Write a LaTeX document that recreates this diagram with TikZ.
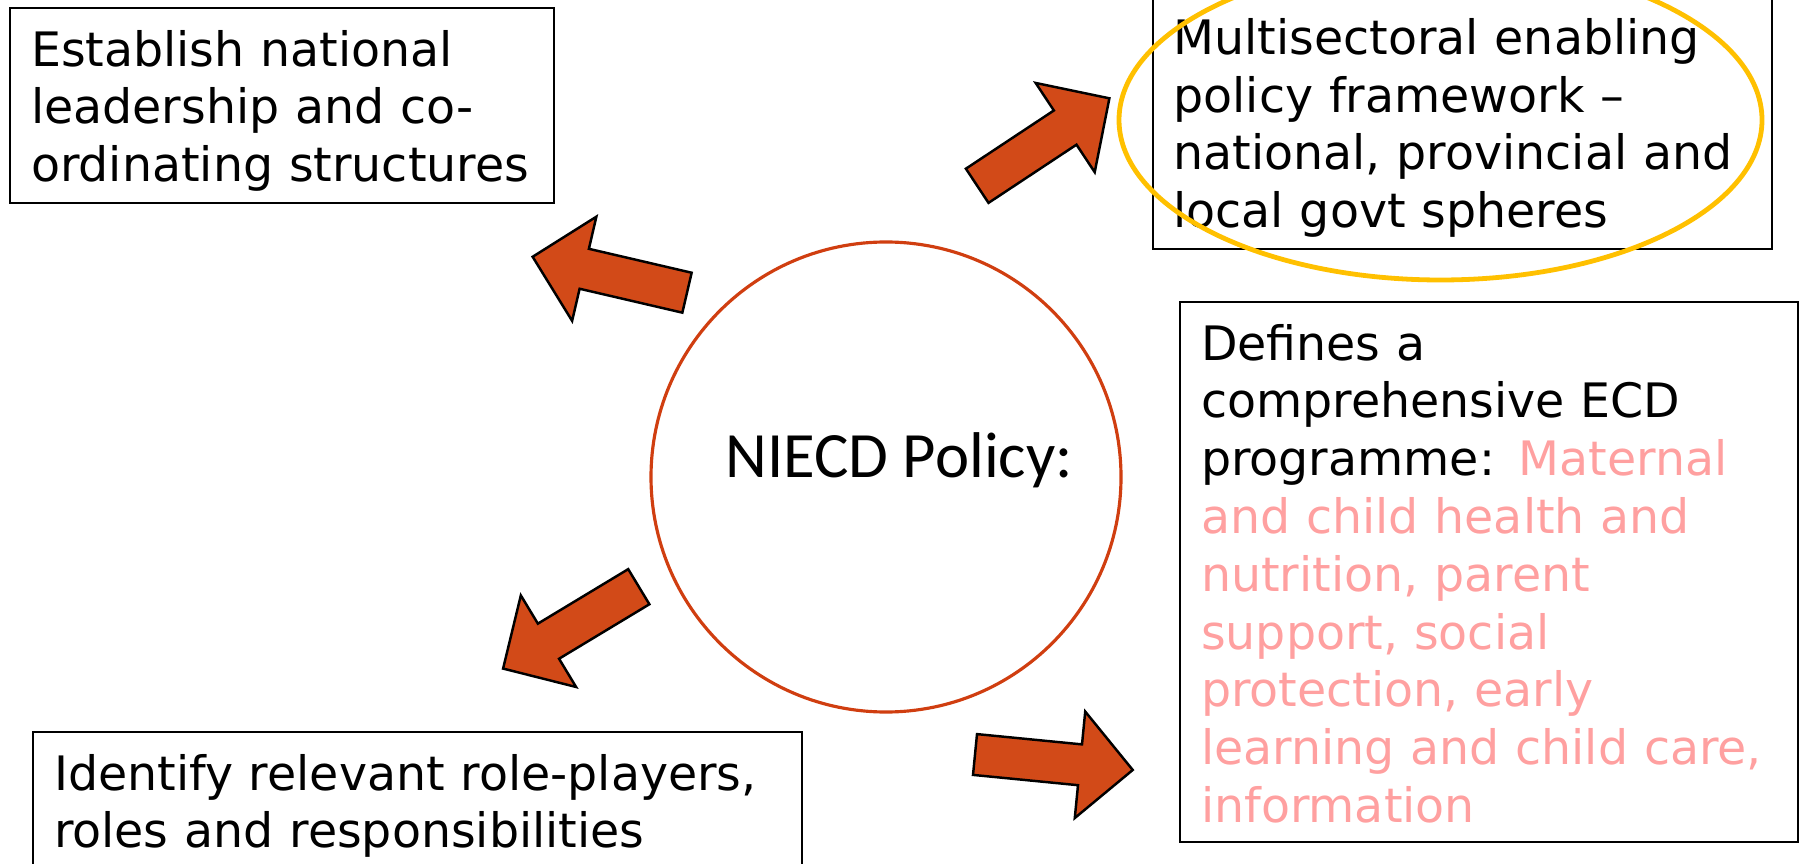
\documentclass[tikz,border=0pt]{standalone}
\usepackage{fontspec}
\setmainfont{DejaVu Sans}
\newfontfamily\hubfont{Carlito}
\usepackage{xcolor}
\usepackage{tikz}

\definecolor{arrowred}{RGB}{210,74,24}
\definecolor{ringred}{RGB}{208,62,16}
\definecolor{markgold}{RGB}{255,192,0}
\definecolor{softpink}{RGB}{255,160,160}

\begin{document}
\begin{tikzpicture}[
    font=\fontsize{13.5pt}{16.45pt}\selectfont,
    box/.style={draw, line width=0.6pt, anchor=north west, align=left,
                inner xsep=0.21cm, inner ysep=0pt, text height=0.58cm},
    hub/.style={circle, draw=ringred, line width=0.9pt,
                minimum size=4.70cm, inner sep=0pt},
    hubtext/.style={font=\hubfont\fontsize{18.4pt}{21pt}\selectfont, anchor=base},
    highlight/.style={draw=markgold, line width=0.048cm},
    blockarrow/.pic={
      \draw[fill=arrowred, line width=0.7pt]
        (0,0.205) -- (1.055,0.205) -- (1.055,0.535) -- (1.585,0)
        -- (1.055,-0.535) -- (1.055,-0.205) -- (0,-0.205) -- cycle;
    },
  ]
    \useasboundingbox (0,0) rectangle (18.02,-8.64);
    \clip (0,0) rectangle (18.02,-8.64);

    % the four outcome boxes
    \node[box, text width=5.02cm, text depth=1.37cm] (leader) at (0.09,-0.07)
      {Establish national\\leadership and co-\\ordinating structures};
    \node[box, text width=5.775cm, text depth=1.944cm] (frame) at (11.515,0.047)
      {Multisectoral enabling\\policy framework --\\national, provincial and\\local govt spheres};
    \node[box, text width=5.76cm, text depth=4.82cm] (prog) at (11.79,-3.01)
      {Defines a\\comprehensive ECD\\programme: \color{softpink}Maternal\\and child health and\\nutrition, parent\\support, social\\protection, early\\learning and child care,\\information};
    \node[box, text width=7.27cm, text depth=0.95cm] (roles) at (0.32,-7.31)
      {Identify relevant role-players,\\roles and responsibilities};

    \draw[highlight] (14.405,-1.20) ellipse [x radius=3.215, y radius=1.60];

    % centre
    \node[hub] (policy) at (8.86,-4.77) {};
    \node[hubtext] (policytext) at (8.99,-4.78) {NIECD Policy:};

    % block arrows pointing out
    \pic[rotate=166.9] at (6.87,-2.927)  {blockarrow};
    \pic[rotate=33.5]  at (9.772,-1.858) {blockarrow};
    \pic[rotate=211.1] at (6.388,-5.867) {blockarrow};
    \pic[rotate=-5.6]  at (9.75,-7.545)  {blockarrow};
  \end{tikzpicture}
\end{document}
